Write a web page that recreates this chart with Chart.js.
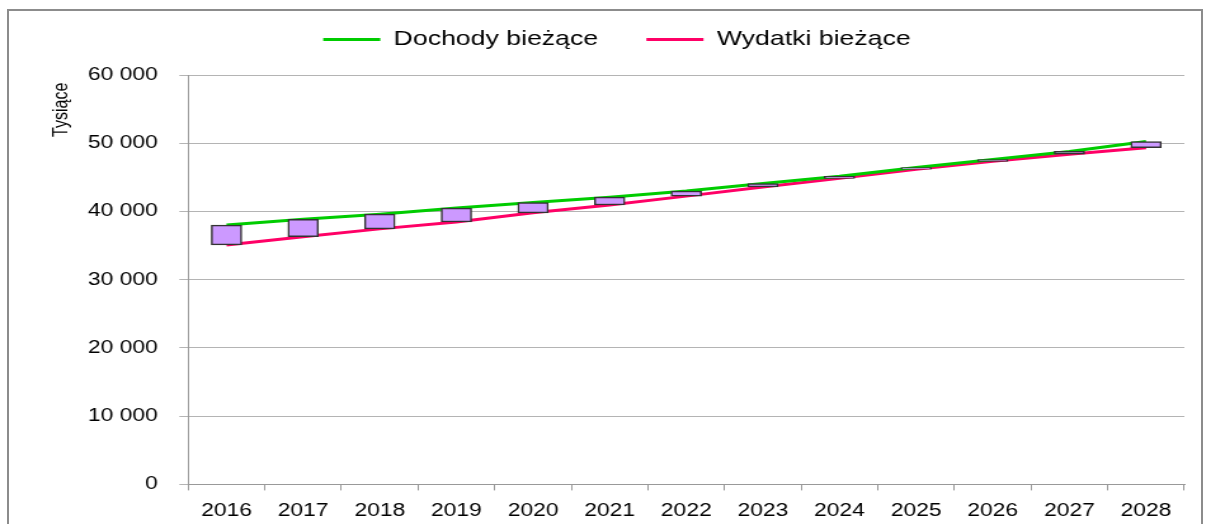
<!DOCTYPE html>
<html>
<head>
<meta charset="utf-8">
<script src="https://cdn.jsdelivr.net/npm/chart.js@4/dist/chart.umd.min.js"></script>
<style>
    html, body { margin: 0; padding: 0; background: #fff; overflow: hidden; }
    body { width: 1211px; height: 524px; position: relative; }
    #frame {
        position: absolute; left: 7px; top: 9px;
        width: 1196px; height: 600px;
        border: 2px solid #8c8c8c; box-sizing: border-box;
    }
    /* the original picture is stretched sideways, so the canvas is too */
    #budgetChart {
        position: absolute; left: 0; top: -9px;
        transform: scaleX(1.2694); transform-origin: 0 0;
    }
</style>
</head>
<body>
<div id="frame"></div>
<canvas id="budgetChart" width="954" height="541"></canvas>
<script>
const years = ['2016','2017','2018','2019','2020','2021','2022','2023','2024','2025','2026','2027','2028'];
const dochody = [38000, 38850, 39600, 40500, 41300, 42100, 43000, 44100, 45150, 46450, 47600, 48800, 50250];
const wydatki = [35100, 36300, 37450, 38450, 39800, 40950, 42250, 43600, 44850, 46200, 47350, 48400, 49350];
const yTickValues = [0, 10000, 20000, 30000, 40000, 50000, 60000];
const yTickLabels = ['0', '10 000', '20 000', '30 000', '40 000', '50 000', '60 000'];

document.addEventListener("DOMContentLoaded", function () {
    const ctx = document.getElementById('budgetChart').getContext('2d');
    const font = "'Liberation Sans', Arial, sans-serif";

    // extra room between legend and plot
    const legendGap = {
        id: 'legendGap',
        beforeInit(chart) {
            const fit = chart.legend.fit;
            chart.legend.fit = function () {
                fit.call(this);
                this.height += 15;
            };
        }
    };

    new Chart(ctx, {
        type: 'bar',
        data: {
            labels: years,
            datasets: [
                {
                    type: 'bar',
                    label: 'Różnica',
                    data: years.map((_, i) => [wydatki[i], dochody[i]]),
                    backgroundColor: '#cc99ff',
                    borderColor: '#333333',
                    borderWidth: 1.5,
                    borderSkipped: false,
                    barThickness: 24,
                    order: 0
                },
                {
                    type: 'line',
                    label: 'Dochody bieżące',
                    data: dochody,
                    borderColor: '#00cc00',
                    backgroundColor: '#00cc00',
                    borderWidth: 3,
                    pointRadius: 0,
                    tension: 0,
                    order: 1
                },
                {
                    type: 'line',
                    label: 'Wydatki bieżące',
                    data: wydatki,
                    borderColor: '#ff0066',
                    backgroundColor: '#ff0066',
                    borderWidth: 3,
                    pointRadius: 0,
                    tension: 0,
                    order: 1
                }
            ]
        },
        options: {
            responsive: false,
            animation: false,
            layout: {
                padding: { left: 39, right: 21, top: 0, bottom: 0 }
            },
            plugins: {
                tooltip: { enabled: false },
                legend: {
                    display: true,
                    labels: {
                        filter: item => item.datasetIndex !== 0,
                        usePointStyle: true,
                        pointStyle: 'line',
                        pointStyleWidth: 45,
                        padding: 38,
                        color: '#000',
                        font: { family: font, size: 21 }
                    }
                }
            },
            scales: {
                x: {
                    grid: {
                        display: true,
                        drawOnChartArea: false,
                        offset: true,
                        tickLength: 6,
                        color: '#999'
                    },
                    border: { color: '#999' },
                    ticks: {
                        color: '#000',
                        padding: 10,
                        maxRotation: 0,
                        font: { family: font, size: 18 }
                    }
                },
                y: {
                    min: 0,
                    max: 60000,
                    afterBuildTicks: axis => {
                        axis.ticks = yTickValues.map(v => ({ value: v }));
                    },
                    grid: {
                        color: '#b4b4b4',
                        tickLength: 7
                    },
                    border: { color: '#999' },
                    ticks: {
                        color: '#000',
                        padding: 17,
                        font: { family: font, size: 18 },
                        callback: value => yTickLabels[yTickValues.indexOf(value)]
                    },
                    title: {
                        display: true,
                        // trailing spaces push the title a little below the top gridline
                        text: 'Tysiące\u00a0\u2009',
                        align: 'end',
                        color: '#000',
                        padding: { top: 0, bottom: -6 },
                        font: { family: font, size: 16 }
                    }
                }
            }
        },
        plugins: [legendGap]
    });
});
</script>
</body>
</html>
